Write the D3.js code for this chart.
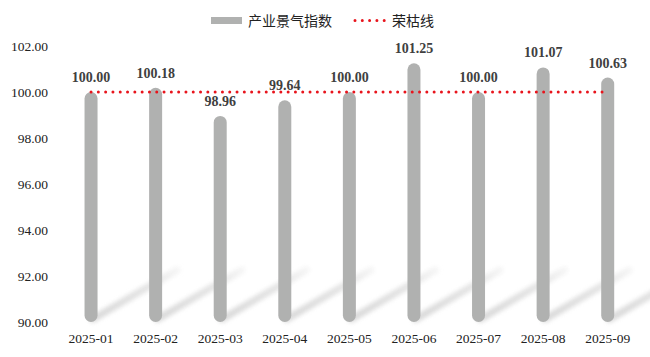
<!DOCTYPE html>
<html><head><meta charset="utf-8">
<script src="https://cdn.jsdelivr.net/npm/d3@7/dist/d3.min.js"></script>
<style>body{margin:0;background:#fff}svg{display:block}</style>
</head><body>
<svg id="chart" width="650" height="357"></svg>
<script>
const categories = ["2025-01","2025-02","2025-03","2025-04","2025-05","2025-06","2025-07","2025-08","2025-09"];
const indexValues = [100.00,100.18,98.96,99.64,100.00,101.25,100.00,101.07,100.63];
const boomLine = [100,100,100,100,100,100,100,100,100];
const yTicks = [90,92,94,96,98,100,102];
const seriesNames = ["产业景气指数","荣枯线"];

const svg = d3.select("#chart");
const x = d3.scaleBand().domain(categories).range([58.75, 640]).paddingInner(0).paddingOuter(0);
const y = d3.scaleLinear().domain([90,102]).range([322,46]);
const cx = d => x(d) + x.bandwidth()/2;
const barW = 13;

const defs = svg.append("defs");
defs.append("filter").attr("id","blur").attr("x","-50%").attr("y","-50%").attr("width","200%").attr("height","200%")
  .append("feGaussianBlur").attr("stdDeviation",2.2);
const grad = defs.append("linearGradient").attr("id","shgrad").attr("gradientUnits","objectBoundingBox")
  .attr("x1",0).attr("y1",1).attr("x2",1).attr("y2",0);
grad.append("stop").attr("offset","0").attr("stop-color","#d4d4d4");
grad.append("stop").attr("offset","0.7").attr("stop-color","#e2e2e2");
grad.append("stop").attr("offset","1").attr("stop-color","#f4f4f4");

// shadows
svg.append("g").selectAll("line").data(categories).join("line")
  .attr("x1", d => cx(d)+2).attr("y1", y(90)-3)
  .attr("x2", d => cx(d)+86).attr("y2", y(90)-52)
  .attr("stroke","url(#shgrad)").attr("stroke-width",7).attr("stroke-linecap","round")
  .attr("filter","url(#blur)").attr("opacity",0.9);

// bars
svg.append("g").selectAll("rect").data(categories).join("rect")
  .attr("x", d => cx(d)-barW/2).attr("width", barW)
  .attr("y", (d,i) => y(indexValues[i]))
  .attr("height", (d,i) => y(90) - y(indexValues[i]))
  .attr("rx", barW/2).attr("fill","#b0b1b0");

// boom line
svg.append("path").datum(boomLine)
  .attr("d", d3.line().x((d,i)=>cx(categories[i])).y(d=>y(d)))
  .attr("fill","none").attr("stroke","#e8141c").attr("stroke-width",3)
  .attr("stroke-linecap","round").attr("stroke-dasharray","0 7.3");

// value labels
svg.append("g").selectAll("text").data(categories).join("text")
  .attr("x", d => cx(d)).attr("y", (d,i) => y(indexValues[i]) - 10)
  .attr("text-anchor","middle")
  .attr("font-family","'Liberation Serif','Times New Roman',serif")
  .attr("font-weight","bold").attr("font-size",14).attr("fill","#404040")
  .text((d,i)=>indexValues[i].toFixed(2));

// y axis
const yAxis = d3.axisLeft(y).tickValues(yTicks).tickFormat(d3.format(".2f")).tickSize(0).tickPadding(0);
const gy = svg.append("g").attr("transform","translate(48,0)").call(yAxis);
gy.select(".domain").remove();
gy.selectAll("text").attr("font-family","'Liberation Serif','Times New Roman',serif")
  .attr("font-size",13.5).attr("fill","#222");

// x axis
const xAxis = d3.axisBottom(x).tickSize(0).tickPadding(0);
const gx = svg.append("g").attr("transform","translate(0,333)").call(xAxis);
gx.select(".domain").remove();
gx.selectAll("text").attr("font-family","'Liberation Serif','Times New Roman',serif")
  .attr("font-size",13.5).attr("fill","#222");

// legend
const lg = svg.append("g");
lg.append("rect").attr("x",211).attr("y",17).attr("width",31).attr("height",7).attr("fill","#b0b1b0");
lg.append("text").attr("x",248).attr("y",25.5).attr("font-family","'Noto Sans CJK SC',sans-serif")
  .attr("font-size",14).attr("fill","#222").text(seriesNames[0]);
lg.append("line").attr("x1",355).attr("x2",386).attr("y1",20.5).attr("y2",20.5)
  .attr("stroke","#e8141c").attr("stroke-width",3).attr("stroke-linecap","round").attr("stroke-dasharray","0 7.3");
lg.append("text").attr("x",392).attr("y",25.5).attr("font-family","'Noto Sans CJK SC',sans-serif")
  .attr("font-size",14).attr("fill","#222").text(seriesNames[1]);
</script>
</body></html>
